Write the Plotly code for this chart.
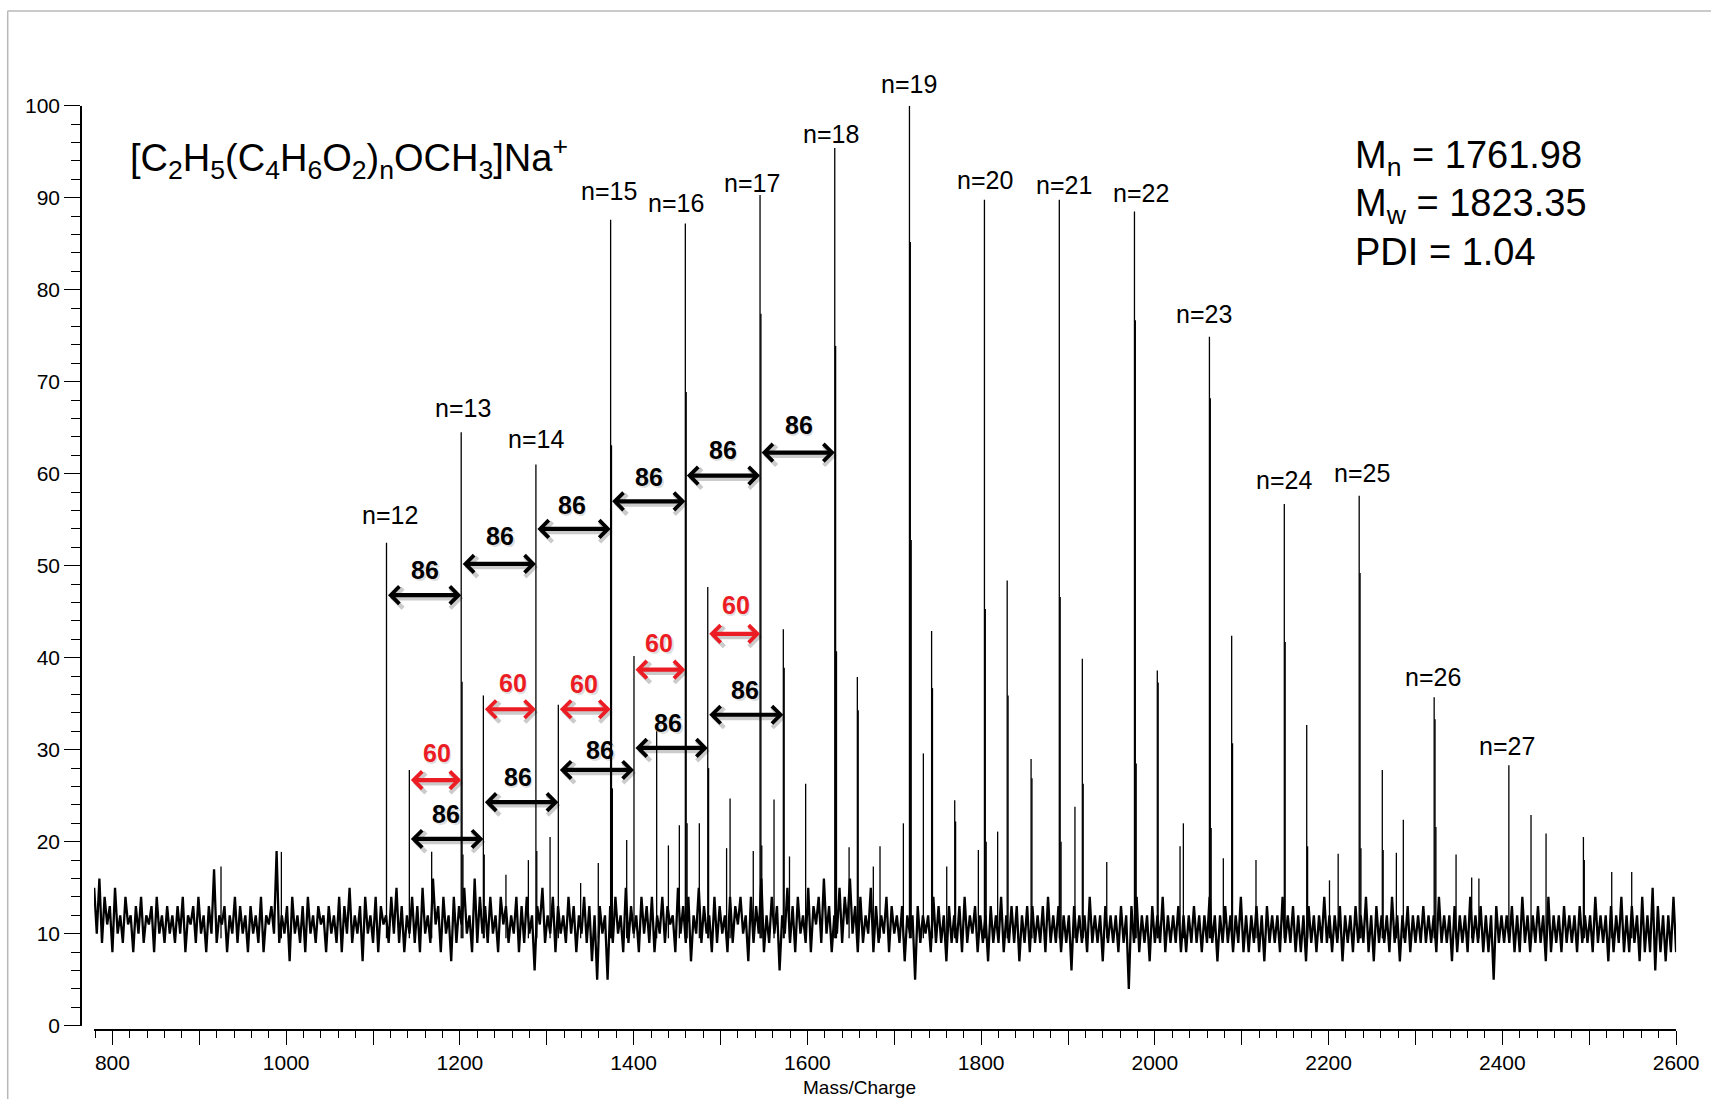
import plotly.graph_objects as go

FONT = "Liberation Sans, Arial, Helvetica, sans-serif"
RED = "rgb(236,28,36)"
W, H = 1711, 1099
Y_TOP = 100.0
PX_PER_UNIT = (1025.7 - 105.8) / 100.0

# ---------------- spectrum data ----------------
# baseline noise: relative intensity every 3 m/z, starting at m/z 779
noise_start = 779.0
noise_step = 3.0
noise_intensity = [
    15, 10, 16, 9, 14, 11, 13, 8, 15, 10, 12, 9, 14, 11, 12, 8, 13, 10, 14, 9, 12, 11, 13, 8, 14, 10, 12, 9, 13, 10,
    12, 9, 13, 10, 14, 8, 12, 11, 13, 9, 14, 10, 12, 8, 13, 10, 17, 9, 12, 11, 13, 8, 12, 10, 14, 9, 13, 10, 12, 8,
    13, 10, 12, 9, 14, 8, 12, 11, 13, 10, 19, 9, 12, 10, 13, 7, 14, 10, 12, 9, 13, 8, 14, 10, 12, 9, 13, 11, 12, 8,
    13, 10, 12, 9, 14, 8, 13, 10, 15, 9, 12, 10, 13, 7, 14, 10, 12, 9, 14, 8, 13, 11, 12, 9, 14, 10, 15, 9, 13, 8,
    12, 10, 14, 9, 13, 8, 15, 10, 12, 9, 16, 11, 13, 8, 14, 10, 12, 7, 14, 9, 13, 11, 15, 10, 12, 8, 16, 9, 14, 10,
    13, 9, 14, 10, 12, 8, 14, 11, 13, 9, 12, 10, 14, 8, 13, 9, 14, 10, 12, 6, 13, 11, 15, 9, 12, 10, 14, 8, 13, 10,
    12, 9, 14, 10, 13, 8, 12, 10, 14, 9, 13, 7, 12, 5, 13, 10, 12, 5, 13, 9, 14, 10, 12, 8, 15, 9, 13, 10, 12, 8,
    14, 10, 13, 9, 14, 8, 12, 10, 14, 9, 13, 11, 12, 8, 15, 10, 13, 9, 14, 7, 12, 10, 15, 9, 13, 10, 12, 8, 14, 9,
    13, 10, 12, 8, 14, 9, 13, 11, 14, 10, 12, 7, 14, 9, 13, 10, 16, 8, 12, 9, 14, 10, 13, 6, 12, 10, 15, 9, 13, 8,
    14, 10, 12, 9, 15, 8, 13, 11, 14, 9, 16, 10, 13, 8, 12, 10, 15, 9, 14, 11, 16, 10, 13, 8, 14, 9, 12, 10, 15, 8,
    13, 9, 12, 10, 14, 8, 13, 10, 12, 9, 13, 7, 12, 10, 12, 5, 13, 9, 12, 10, 12, 8, 14, 9, 13, 9, 12, 7, 13, 9,
    12, 9, 13, 8, 14, 9, 12, 10, 13, 8, 12, 9, 12, 7, 13, 9, 12, 9, 14, 8, 12, 9, 13, 9, 13, 7, 12, 9, 13, 8,
    13, 9, 12, 9, 13, 8, 14, 9, 12, 9, 13, 8, 12, 9, 12, 6, 13, 9, 12, 9, 12, 8, 14, 9, 12, 9, 12, 7, 13, 9,
    12, 9, 12, 8, 13, 9, 12, 4, 13, 9, 14, 8, 12, 9, 12, 7, 13, 9, 12, 9, 14, 8, 12, 9, 12, 9, 13, 8, 12, 8,
    12, 9, 13, 9, 12, 8, 12, 9, 14, 9, 12, 7, 12, 9, 13, 9, 12, 8, 12, 9, 14, 8, 12, 8, 12, 9, 13, 8, 12, 7,
    13, 9, 12, 9, 12, 8, 14, 9, 12, 9, 13, 8, 12, 8, 12, 7, 13, 9, 12, 8, 12, 9, 14, 9, 12, 8, 12, 9, 13, 7,
    12, 9, 12, 8, 13, 9, 12, 9, 14, 8, 12, 7, 13, 9, 12, 9, 12, 8, 14, 9, 12, 7, 12, 9, 13, 8, 12, 9, 12, 9,
    13, 9, 12, 9, 12, 8, 14, 9, 12, 9, 12, 7, 13, 8, 12, 9, 12, 8, 14, 9, 12, 9, 13, 8, 12, 8, 12, 5, 13, 9,
    12, 9, 12, 9, 13, 8, 12, 8, 14, 9, 12, 8, 12, 9, 13, 9, 12, 7, 14, 8, 12, 9, 12, 8, 13, 9, 12, 9, 12, 8,
    13, 9, 12, 9, 12, 8, 14, 9, 12, 9, 12, 7, 13, 8, 12, 9, 14, 8, 12, 8, 13, 9, 12, 7, 14, 8, 12, 8, 15, 6,
    13, 8, 12, 7, 12, 8, 14, 8,
]

# main oligomer series [C2H5(C4H6O2)nOCH3]Na+ with isotope lines
main_mz = [1115.5,
           1201.5, 1202.5, 1203.5,
           1287.5, 1288.5,
           1373.5, 1374.5, 1375.5,
           1459.5, 1460.5, 1461.5,
           1545.5, 1546.5, 1547.5,
           1631.5, 1632.5, 1633.5,
           1717.5, 1718.5, 1719.5,
           1803.8, 1804.8, 1805.8,
           1890.0, 1891.0, 1892.0,
           1976.5, 1977.5, 1978.5,
           2062.8, 2063.8, 2064.8,
           2149.0, 2150.0,
           2235.2, 2236.2, 2237.2,
           2321.5, 2322.5, 2323.5,
           2407.5]
main_int = [52.5,
            64.5, 37.4, 18.6,
            61.0, 19.0,
            87.6, 63.1, 25.8,
            87.2, 68.9, 22.0,
            90.3, 77.4, 19.6,
            95.4, 73.9, 40.7,
            100.0, 85.2, 52.8,
            89.8, 45.3, 20.0,
            89.8, 46.6, 20.0,
            88.5, 76.7, 28.5,
            74.9, 68.2, 21.5,
            56.7, 41.7,
            57.6, 49.2, 19.3,
            35.7, 33.3, 21.6,
            28.3]

# series 60 below the main series
minus60_mz = [1141.8, 1227.0, 1228.0, 1313.3, 1400.4, 1485.3, 1486.3, 1572.3, 1573.3,
              1657.5, 1658.5, 1743.0, 1744.0, 1830.0, 1831.0, 1916.5, 1917.5, 2002.8,
              2003.8, 2088.4, 2089.4, 2174.8, 2175.8, 2261.8, 2262.8, 2346.7, 2433.0]
minus60_int = [27.8, 35.9, 18.6, 34.9, 40.2, 47.7, 28.0, 43.1, 38.9,
               37.9, 34.3, 42.9, 36.7, 48.4, 35.9, 39.9, 26.3, 38.6,
               37.3, 42.4, 30.7, 32.7, 19.5, 27.8, 19.1, 18.6, 22.9]

# minor peaks
minor_mz = [925.0, 994.5, 1167.5, 1253.0, 1278.8, 1303.8, 1339.0, 1359.3, 1392.0,
            1426.5, 1440.0, 1452.6, 1475.6, 1507.0, 1511.0, 1537.7, 1561.6, 1579.4,
            1598.0, 1648.0, 1675.9, 1683.6, 1710.5, 1733.5, 1760.4, 1769.6, 1770.6,
            1796.8, 1819.0, 1857.5, 1858.5, 1908.0, 1944.6, 2029.0, 2032.8, 2078.8,
            2116.4, 2201.0, 2211.0, 2278.0, 2286.0, 2364.7, 2373.0, 2450.3, 2493.3,
            2494.3, 2525.9, 2548.9]
minor_int = [17.3, 18.9, 18.9, 16.4, 18.0, 20.5, 15.5, 17.7, 20.2,
             32.0, 19.6, 21.8, 22.0, 19.3, 24.7, 19.0, 24.6, 18.4,
             26.3, 19.4, 17.3, 19.5, 22.0, 29.6, 17.3, 24.5, 22.2,
             19.1, 21.1, 29.0, 26.9, 23.8, 17.8, 19.5, 22.0, 18.2,
             18.0, 15.8, 18.7, 18.8, 22.4, 16.1, 16.0, 20.9, 20.5,
             18.0, 16.7, 16.7]

# chain-length labels
chain_n = list(range(12, 28))
chain_label_mz = [1119.1, 1203.3, 1287.4, 1371.7, 1448.8, 1536.0, 1627.7, 1717.3,
                  1804.5, 1895.0, 1984.0, 2056.6, 2148.7, 2238.1, 2319.8, 2405.7]
chain_label_y = [55.5, 67.1, 63.8, 90.7, 89.4, 91.6, 96.9, 102.4,
                 91.9, 91.4, 90.5, 77.4, 59.3, 60.1, 37.9, 30.4]

# mass-difference markers: (from m/z, to m/z, arrow level, label m/z, label level)
spans_86_upper = [(1115.5, 1201.5, 46.8, 1159.9, 49.5),
                  (1201.5, 1287.5, 50.2, 1246.2, 53.2),
                  (1287.5, 1373.5, 54.0, 1328.7, 56.6),
                  (1373.5, 1459.5, 57.0, 1418.0, 59.7),
                  (1459.5, 1545.5, 59.8, 1502.3, 62.6),
                  (1545.5, 1631.5, 62.3, 1589.9, 65.3)]
spans_60 = [(1141.8, 1201.5, 26.7, 1173.3, 29.6),
            (1227.0, 1287.5, 34.4, 1260.8, 37.3),
            (1313.3, 1373.5, 34.4, 1343.2, 37.2),
            (1400.4, 1459.5, 38.7, 1429.2, 41.6),
            (1485.3, 1545.5, 42.6, 1517.5, 45.7)]
spans_86_lower = [(1141.8, 1227.0, 20.3, 1184.0, 23.0),
                  (1227.0, 1313.3, 24.3, 1266.6, 27.0),
                  (1313.3, 1400.4, 27.8, 1361.3, 30.0),
                  (1400.4, 1485.3, 30.2, 1439.9, 32.9),
                  (1485.3, 1572.3, 33.8, 1528.2, 36.5)]

stats_lines = ["M<sub>n</sub> = 1761.98", "M<sub>w</sub> = 1823.35", "PDI = 1.04"]
formula = ("[C<sub>2</sub>H<sub>5</sub>(C<sub>4</sub>H<sub>6</sub>O<sub>2</sub>)<sub>n</sub>"
           "OCH<sub>3</sub>]Na<sup>+</sup>")

# ---------------- figure ----------------
fig = go.Figure()

noise_mz = [noise_start + i * noise_step for i in range(len(noise_intensity))]
fig.add_trace(go.Scatter(x=noise_mz, y=noise_intensity, mode="lines",
                         line=dict(color="black", width=2.3), hoverinfo="skip",
                         showlegend=False))

stick_x, stick_y = [], []
for mzs, ints in ((main_mz, main_int), (minus60_mz, minus60_int), (minor_mz, minor_int)):
    for m, v in zip(mzs, ints):
        stick_x += [m, m, None]
        stick_y += [9.5, v, None]
fig.add_trace(go.Scatter(x=stick_x, y=stick_y, mode="lines",
                         line=dict(color="black", width=1.3), hoverinfo="skip",
                         showlegend=False))


def label_at(x, y, text, font, **kw):
    # labels above the top of the intensity range are pinned to it and lifted in pixels
    shift = 0.0
    if y > Y_TOP:
        shift = (y - Y_TOP) * PX_PER_UNIT
        y = Y_TOP
    fig.add_annotation(x=x, y=y, xref="x", yref="y", text=text, showarrow=False,
                       font=font, xanchor="center", yanchor="middle",
                       yshift=shift + kw.pop("yshift", 0), **kw)


# chain labels
for n, lx, ly in zip(chain_n, chain_label_mz, chain_label_y):
    label_at(lx, ly, f"n={n}", dict(family=FONT, size=25, color="black"))


def add_span(x0, x1, y, color, label, lx, ly):
    common = dict(x=x1, y=y, ax=x0, ay=y, xref="x", yref="y", axref="x", ayref="y",
                  text="", showarrow=True, arrowside="end+start",
                  arrowhead=4, startarrowhead=4, arrowsize=0.8, startarrowsize=0.8)
    fig.add_annotation(**common, arrowwidth=4.8, arrowcolor="rgba(0,0,0,0.2)",
                       xshift=2, yshift=-3)
    fig.add_annotation(**common, arrowwidth=4.2, arrowcolor=color)
    label_at(lx, ly, f"<b>{label}</b>", dict(family=FONT, size=25, color="rgba(0,0,0,0.15)"),
             xshift=1.5, yshift=-2)
    label_at(lx, ly, f"<b>{label}</b>", dict(family=FONT, size=25, color=color))


for s in spans_86_upper:
    add_span(s[0], s[1], s[2], "black", "86", s[3], s[4])
for s in spans_60:
    add_span(s[0], s[1], s[2], RED, "60", s[3], s[4])
for s in spans_86_lower:
    add_span(s[0], s[1], s[2], "black", "86", s[3], s[4])

# formula and molecular-weight summary
fig.add_annotation(x=128 / W, y=1 - 158 / H, xref="paper", yref="paper", text=formula,
                   showarrow=False, xanchor="left", yanchor="middle",
                   font=dict(family=FONT, size=38, color="black"))
for txt, py in zip(stats_lines, (158, 206, 252)):
    fig.add_annotation(x=1353 / W, y=1 - py / H, xref="paper", yref="paper", text=txt,
                       showarrow=False, xanchor="left", yanchor="middle",
                       font=dict(family=FONT, size=38, color="black"))

# axis title
fig.add_annotation(x=859 / W, y=1 - 1087 / H, xref="paper", yref="paper",
                   text="Mass/Charge", showarrow=False, xanchor="center", yanchor="middle",
                   font=dict(family=FONT, size=19, color="black"))

# frame
frame = dict(color="#b8b8b8", width=1.5)
fig.add_shape(type="line", xref="paper", yref="paper", x0=7.7 / W, x1=1,
              y0=1 - 11 / H, y1=1 - 11 / H, line=frame)
fig.add_shape(type="line", xref="paper", yref="paper", x0=7.7 / W, x1=7.7 / W,
              y0=0, y1=1 - 11 / H, line=frame)

x_ticks = list(range(800, 2601, 100))
x_text = [str(v) if v % 200 == 0 else "" for v in x_ticks]

fig.update_layout(
    width=W, height=H, margin=dict(l=0, r=0, t=0, b=0),
    paper_bgcolor="white", plot_bgcolor="white", showlegend=False,
    font=dict(family=FONT, color="black"),
    xaxis=dict(domain=[94 / W, 1676.1 / W], range=[778.8, 2600], anchor="free",
               position=1 - 1030 / H, showline=True, linecolor="black", linewidth=1.5,
               ticks="outside", tickvals=x_ticks, ticktext=x_text, ticklen=14,
               tickwidth=1.3, tickcolor="black", showgrid=False, zeroline=False,
               automargin=False,
               tickfont=dict(family=FONT, size=21, color="black"),
               minor=dict(dtick=20, tick0=800, ticklen=7, tickwidth=1.3,
                          tickcolor="black", ticks="outside", showgrid=False)),
    yaxis=dict(domain=[1 - 1025.7 / H, 1 - 105.8 / H], range=[0, Y_TOP], anchor="free",
               position=81 / W, showline=True, linecolor="black", linewidth=1.5,
               ticks="outside", dtick=10, tick0=0, ticklen=16, tickwidth=1.3,
               tickcolor="black", showgrid=False, zeroline=False, automargin=False,
               tickfont=dict(family=FONT, size=21, color="black"),
               minor=dict(dtick=2, ticklen=9, tickwidth=1.3, tickcolor="black",
                          ticks="outside", showgrid=False)),
)

fig.write_html("out.html")
